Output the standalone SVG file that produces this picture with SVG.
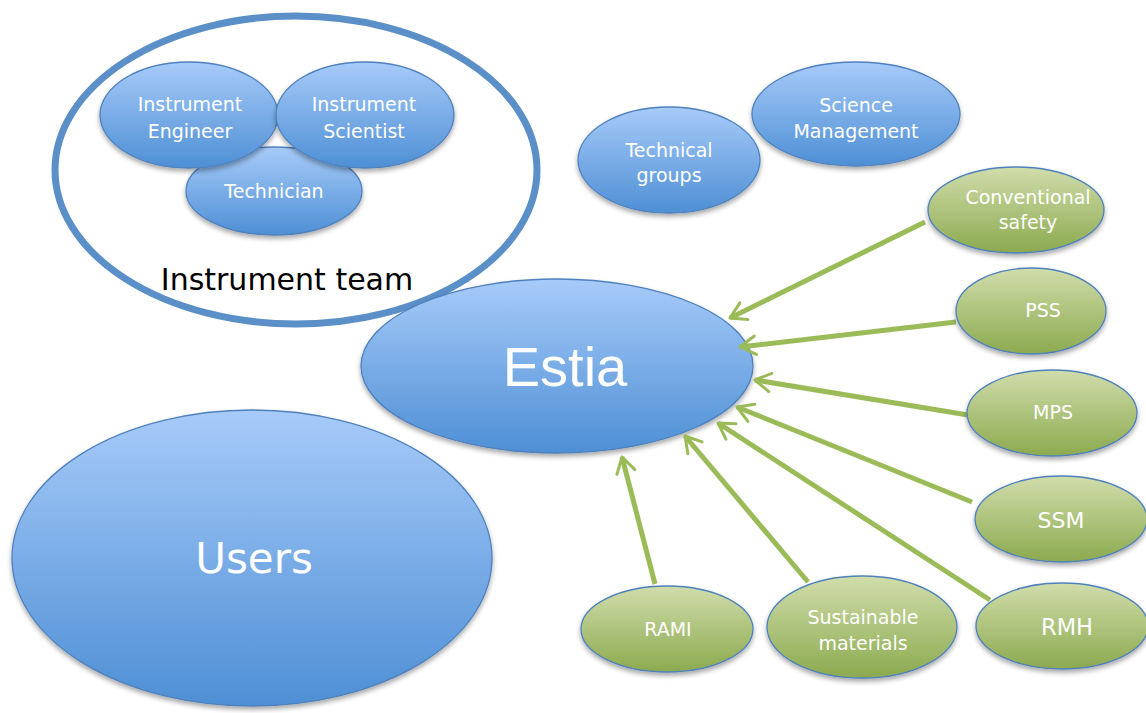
<svg xmlns="http://www.w3.org/2000/svg" width="1146" height="713" viewBox="0 0 1146 713">
<defs>
<linearGradient id="gb" x1="0" y1="0" x2="0" y2="1">
<stop offset="0" stop-color="#a7cbf9"/>
<stop offset="1" stop-color="#4e8fd5"/>
</linearGradient>
<linearGradient id="gg" x1="0" y1="0" x2="0" y2="1">
<stop offset="0" stop-color="#d0ddab"/>
<stop offset="1" stop-color="#8caa4f"/>
</linearGradient>
<filter id="sh" x="-10%" y="-10%" width="120%" height="130%">
<feGaussianBlur in="SourceAlpha" stdDeviation="2.5"/>
<feOffset dx="0" dy="3" result="b"/>
<feComponentTransfer><feFuncA type="linear" slope="0.35"/></feComponentTransfer>
<feMerge><feMergeNode/><feMergeNode in="SourceGraphic"/></feMerge>
</filter>
<marker id="ah" viewBox="0 0 10 10" refX="8.5" refY="5" markerWidth="5" markerHeight="5" orient="auto" markerUnits="strokeWidth" overflow="visible">
<polyline points="2.3,1.3 8.5,5 2.3,8.7" fill="none" stroke="#9bbb59" stroke-width="1.2" stroke-linecap="round" stroke-linejoin="round"/>
</marker>
</defs>
<style>
.b{fill:url(#gb);stroke:#4f81bd;stroke-width:1.3;filter:url(#sh)}
.g{fill:url(#gg);stroke:#4f81bd;stroke-width:1.3;filter:url(#sh)}
.t{font-family:"DejaVu Sans",sans-serif;fill:#fff;text-anchor:middle}
.s{font-size:19px}
.c{stroke:#9bbb59;stroke-width:5;fill:none;marker-end:url(#ah)}
</style>
<rect width="1146" height="713" fill="#fff"/>

<g id="instrument-team">
<ellipse cx="296" cy="170" rx="241" ry="154" fill="none" stroke="#5b8fc7" stroke-width="7"/>
<text x="287" y="290" font-family="DejaVu Sans,sans-serif" font-size="30" fill="#000" text-anchor="middle">Instrument team</text>
</g>
<g id="technician">
<ellipse class="b" cx="274" cy="191" rx="88" ry="44"/>
<text class="t s" x="274" y="198">Technician</text>
</g>
<g id="instrument-engineer">
<ellipse class="b" cx="189" cy="115" rx="89" ry="53"/>
<text class="t s" x="190" y="111">Instrument</text>
<text class="t s" x="190" y="138">Engineer</text>
</g>
<g id="instrument-scientist">
<ellipse class="b" cx="365" cy="115" rx="89" ry="53"/>
<text class="t s" x="364" y="111">Instrument</text>
<text class="t s" x="364" y="138">Scientist</text>
</g>

<g id="technical-groups">
<ellipse class="b" cx="669" cy="160" rx="91" ry="53"/>
<text class="t s" x="669" y="157">Technical</text>
<text class="t s" x="669" y="182">groups</text>
</g>
<g id="science-management">
<ellipse class="b" cx="856" cy="114" rx="104" ry="52"/>
<text class="t s" x="856" y="112">Science</text>
<text class="t s" x="856" y="138">Management</text>
</g>

<g id="users">
<ellipse class="b" cx="252" cy="558" rx="240" ry="148"/>
<text class="t" x="254" y="573" font-size="42">Users</text>
</g>

<g id="estia">
<ellipse class="b" cx="557" cy="366" rx="196" ry="87"/>
<text x="565" y="386" font-family="Liberation Sans,Arial,sans-serif" font-size="56" fill="#fff" text-anchor="middle">Estia</text>
</g>

<g id="connectors">
<line class="c" x1="925" y1="222" x2="730" y2="318"/>
<line class="c" x1="956" y1="322" x2="740" y2="347"/>
<line class="c" x1="968" y1="415" x2="755" y2="380"/>
<line class="c" x1="972" y1="502" x2="737" y2="407"/>
<line class="c" x1="990" y1="600" x2="718" y2="423"/>
<line class="c" x1="808" y1="582" x2="685" y2="436"/>
<line class="c" x1="655" y1="584" x2="622" y2="457"/>
</g>

<g id="conventional-safety">
<ellipse class="g" cx="1016" cy="210" rx="88" ry="43"/>
<text class="t s" x="1028" y="204">Conventional</text>
<text class="t s" x="1028" y="229">safety</text>
</g>
<g id="pss">
<ellipse class="g" cx="1031" cy="311" rx="75" ry="43"/>
<text class="t s" x="1043" y="317">PSS</text>
</g>
<g id="mps">
<ellipse class="g" cx="1052" cy="413" rx="85" ry="43"/>
<text class="t s" x="1053" y="419">MPS</text>
</g>
<g id="ssm">
<ellipse class="g" cx="1061" cy="519" rx="86" ry="43"/>
<text class="t" x="1061" y="528" font-size="22">SSM</text>
</g>
<g id="rmh">
<ellipse class="g" cx="1062" cy="626" rx="86" ry="43"/>
<text class="t" x="1067" y="635" font-size="22.5">RMH</text>
</g>
<g id="rami">
<ellipse class="g" cx="667" cy="629" rx="86" ry="43"/>
<text class="t s" x="668" y="636">RAMI</text>
</g>
<g id="sustainable-materials">
<ellipse class="g" cx="862" cy="627" rx="95" ry="51"/>
<text class="t s" x="863" y="624">Sustainable</text>
<text class="t s" x="863" y="650">materials</text>
</g>
</svg>
